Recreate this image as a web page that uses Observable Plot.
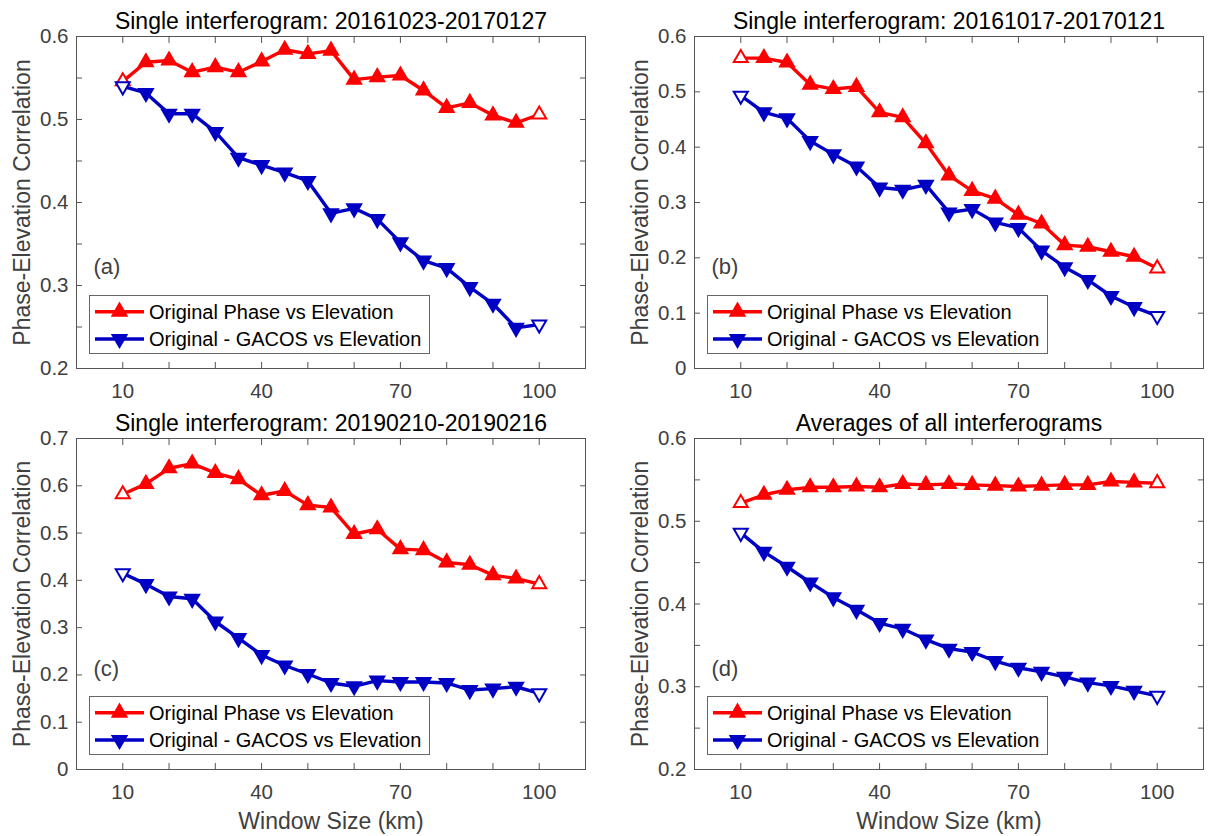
<!DOCTYPE html>
<html><head><meta charset="utf-8">
<script src="https://cdn.jsdelivr.net/npm/d3@7"></script>
<script src="https://cdn.jsdelivr.net/npm/@observablehq/plot@0.6"></script>
<style>
html,body{margin:0;padding:0;background:#fff;}
#wrap{position:relative;width:1220px;height:836px;background:#fff;}
#wrap svg{position:absolute;}
</style></head><body><div id="wrap"></div>
<script>
// ---------- data ----------
const windowSizes = [10,15,20,25,30,35,40,45,50,55,60,65,70,75,80,85,90,95,100];
const seriesNames = ["Original Phase vs Elevation", "Original - GACOS vs Elevation"];
const panelTitles = ["Single interferogram: 20161023-20170127", "Single interferogram: 20161017-20170121",
                     "Single interferogram: 20190210-20190216", "Averages of all interferograms"];
const panelLetters = ["(a)", "(b)", "(c)", "(d)"];

const phaseA = [0.546,0.569,0.571,0.557,0.563,0.557,0.570,0.584,0.579,0.583,0.548,0.551,0.553,0.535,0.514,0.520,0.505,0.496,0.506];
const gacosA = [0.540,0.532,0.507,0.507,0.485,0.454,0.445,0.436,0.426,0.387,0.393,0.380,0.352,0.330,0.321,0.298,0.278,0.249,0.253];
const phaseB = [0.561,0.561,0.553,0.513,0.505,0.509,0.463,0.454,0.407,0.349,0.321,0.307,0.278,0.262,0.223,0.220,0.211,0.202,0.181];
const gacosB = [0.493,0.463,0.452,0.411,0.387,0.365,0.327,0.323,0.332,0.282,0.288,0.264,0.254,0.213,0.183,0.160,0.131,0.111,0.095];
const phaseC = [0.582,0.604,0.637,0.647,0.627,0.614,0.580,0.589,0.559,0.554,0.498,0.508,0.466,0.464,0.438,0.433,0.411,0.404,0.392];
const gacosC = [0.415,0.392,0.366,0.361,0.313,0.278,0.242,0.220,0.202,0.183,0.176,0.188,0.185,0.185,0.183,0.168,0.171,0.175,0.161];
const phaseD = [0.522,0.532,0.538,0.541,0.541,0.542,0.541,0.545,0.544,0.545,0.544,0.543,0.542,0.543,0.544,0.544,0.548,0.547,0.546];
const gacosD = [0.486,0.463,0.445,0.426,0.408,0.393,0.377,0.370,0.357,0.346,0.342,0.331,0.323,0.318,0.312,0.305,0.301,0.295,0.289];

const xDomain = [0, 110];
const xTickValues = [10,20,30,40,50,60,70,80,90,100];
const xTickLabels = [10,40,70,100];
const yDomainA = [0.2, 0.6], yTicksA = [0.2,0.25,0.3,0.35,0.4,0.45,0.5,0.55,0.6], yLabelsA = [0.2,0.3,0.4,0.5,0.6];
const yDomainB = [0, 0.6],   yTicksB = [0,0.1,0.2,0.3,0.4,0.5,0.6],            yLabelsB = [0,0.1,0.2,0.3,0.4,0.5,0.6];
const yDomainC = [0, 0.7],   yTicksC = [0,0.1,0.2,0.3,0.4,0.5,0.6,0.7],        yLabelsC = [0,0.1,0.2,0.3,0.4,0.5,0.6,0.7];
const yDomainD = [0.2, 0.6], yTicksD = [0.2,0.25,0.3,0.35,0.4,0.45,0.5,0.55,0.6], yLabelsD = [0.2,0.3,0.4,0.5,0.6];
const yAxisLabel = "Phase-Elevation Correlation";
const xAxisLabel = "Window Size (km)";

// ---------- style ----------
const FONT = '"Liberation Sans", Arial, Helvetica, sans-serif';
const RED = "#ff0000", BLUE = "#0000c4";
const AXIS = "#555555", TXT = "#404040";
const R = 5.2;
const LW = 3.4;

function panel(cfg) {
  const {title, letter, phase, gacos, yDomain, yTicks, yLabels, left, top, width, height, mL, mR, mT, mB, xlabel} = cfg;
  const data = windowSizes.map((w, i) => ({w, phase: phase[i], gacos: gacos[i], i}));
  const last = windowSizes.length - 1;
  const inner = d => d.i !== 0 && d.i !== last;
  const ends = d => d.i === 0 || d.i === last;
  const blank = () => "";
  const marks = [
    Plot.frame({stroke: AXIS, strokeWidth: 1}),
    Plot.axisX({ticks: xTickValues, tickSize: -6, tickFormat: blank, anchor: "bottom", stroke: AXIS, label: null}),
    Plot.axisX({ticks: xTickValues, tickSize: -6, tickFormat: blank, anchor: "top", stroke: AXIS, label: null}),
    Plot.axisX({ticks: xTickLabels, tickSize: 0, tickPadding: 15, anchor: "bottom", label: null, fill: TXT, fontSize: 20.5, tickFormat: d => String(d)}),
    Plot.axisY({ticks: yTicks, tickSize: -6, tickFormat: blank, anchor: "left", stroke: AXIS, label: null}),
    Plot.axisY({ticks: yTicks, tickSize: -6, tickFormat: blank, anchor: "right", stroke: AXIS, label: null}),
    Plot.axisY({ticks: yLabels, tickSize: 0, tickPadding: 8, anchor: "left", label: null, fill: TXT, fontSize: 20.5, tickFormat: d => String(d)}),
    Plot.line(data, {x: "w", y: "phase", stroke: RED, strokeWidth: LW}),
    Plot.dot(data, {filter: inner, x: "w", y: "phase", symbol: "triangle", r: R, fill: RED, stroke: RED, strokeWidth: 2}),
    Plot.dot(data, {filter: ends, x: "w", y: "phase", symbol: "triangle", r: R, fill: "white", stroke: RED, strokeWidth: 2}),
    Plot.line(data, {x: "w", y: "gacos", stroke: BLUE, strokeWidth: LW}),
    Plot.dot(data, {filter: inner, x: "w", y: "gacos", symbol: "triangle", rotate: 180, r: R, fill: BLUE, stroke: BLUE, strokeWidth: 2}),
    Plot.dot(data, {filter: ends, x: "w", y: "gacos", symbol: "triangle", rotate: 180, r: R, fill: "white", stroke: BLUE, strokeWidth: 2}),
    Plot.text([title], {text: d => d, frameAnchor: "top", dy: -8, lineAnchor: "bottom", textAnchor: "middle", fontSize: 23, fill: "black"}),
    Plot.text([yAxisLabel], {text: d => d, frameAnchor: "left", rotate: -90, dx: -54, textAnchor: "middle", lineAnchor: "middle", fontSize: 23, fill: TXT}),
    Plot.text([letter], {text: d => d, frameAnchor: "top-left", dx: 17, dy: 230, textAnchor: "start", lineAnchor: "middle", fontSize: 22, fill: TXT})
  ];
  if (xlabel) marks.push(Plot.text([xAxisLabel], {text: d => d, frameAnchor: "bottom", dy: 59, lineAnchor: "bottom", textAnchor: "middle", fontSize: 23, fill: TXT}));

  const svg = Plot.plot({
    width, height, marginLeft: mL, marginRight: mR, marginTop: mT, marginBottom: mB,
    style: {fontFamily: FONT, fontSize: "20px", background: "white", overflow: "visible"},
    x: {domain: xDomain},
    y: {domain: yDomain},
    marks
  });
  svg.style.left = left + "px";
  svg.style.top = top + "px";
  svg.style.maxWidth = "none";

  // legend box (inside the axes, lower left)
  const fh = height - mT - mB;
  const lw = 340, lh = 58;
  const lx = mL + 13, ly = mT + fh - 15 - lh;
  const g = d3.select(svg).append("g").attr("font-family", FONT).attr("text-anchor", "start");
  g.append("rect").attr("x", lx + 0.5).attr("y", ly + 0.5).attr("width", lw).attr("height", lh)
    .attr("fill", "white").attr("stroke", "#666").attr("stroke-width", 1);
  const rows = [{name: seriesNames[0], color: RED, rot: 0, dy: 16.7}, {name: seriesNames[1], color: BLUE, rot: 180, dy: 44}];
  const sym = d3.symbol(d3.symbolTriangle, Math.PI * R * R);
  for (const r of rows) {
    const y = ly + r.dy;
    g.append("line").attr("x1", lx + 6).attr("x2", lx + 55).attr("y1", y).attr("y2", y)
      .attr("stroke", r.color).attr("stroke-width", LW);
    g.append("path").attr("d", sym()).attr("transform", `translate(${lx + 30.5},${y}) rotate(${r.rot})`)
      .attr("fill", r.color).attr("stroke", r.color).attr("stroke-width", 2);
    g.append("text").attr("x", lx + 60).attr("y", y).attr("dy", "0.35em").attr("text-anchor", "start")
      .attr("font-size", 20).attr("fill", "black").text(r.name);
  }
  document.getElementById("wrap").appendChild(svg);
}

panel({title: panelTitles[0], letter: panelLetters[0], phase: phaseA, gacos: gacosA, yDomain: yDomainA, yTicks: yTicksA, yLabels: yLabelsA,
       left: 0, top: 0, width: 610, height: 402, mL: 76, mR: 25, mT: 36, mB: 34, xlabel: false});
panel({title: panelTitles[1], letter: panelLetters[1], phase: phaseB, gacos: gacosB, yDomain: yDomainB, yTicks: yTicksB, yLabels: yLabelsB,
       left: 610, top: 0, width: 610, height: 402, mL: 84, mR: 17, mT: 36, mB: 34, xlabel: false});
panel({title: panelTitles[2], letter: panelLetters[2], phase: phaseC, gacos: gacosC, yDomain: yDomainC, yTicks: yTicksC, yLabels: yLabelsC,
       left: 0, top: 402, width: 610, height: 434, mL: 76, mR: 25, mT: 36, mB: 67, xlabel: true});
panel({title: panelTitles[3], letter: panelLetters[3], phase: phaseD, gacos: gacosD, yDomain: yDomainD, yTicks: yTicksD, yLabels: yLabelsD,
       left: 610, top: 402, width: 610, height: 434, mL: 84, mR: 17, mT: 36, mB: 67, xlabel: true});
</script>
</body></html>
